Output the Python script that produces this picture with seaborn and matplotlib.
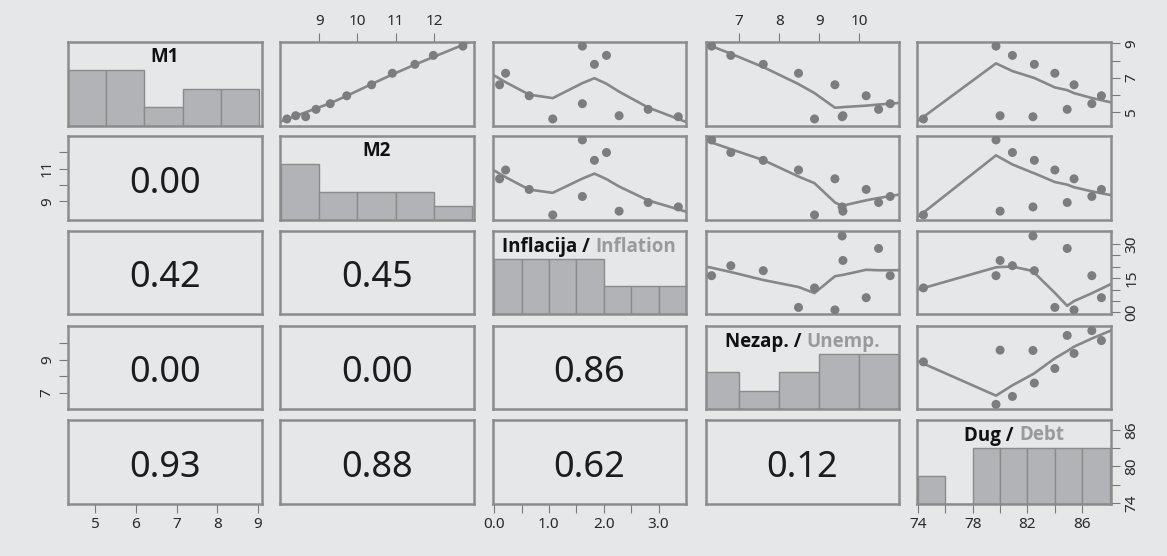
import numpy as np
import pandas as pd
import matplotlib
matplotlib.use("Agg")
import matplotlib.pyplot as plt
import seaborn as sns
from matplotlib import font_manager
from matplotlib.offsetbox import TextArea, HPacker, AnnotationBbox

# ---------------------------------------------------------------- data
m1 = [4.60, 4.79, 4.73, 5.16, 5.49, 5.95, 6.59, 7.26, 7.78, 8.30, 8.84]
m2 = [8.16, 8.39, 8.65, 8.92, 9.29, 9.72, 10.37, 10.91, 11.50, 11.98, 12.75]
inflation = [1.07, 2.28, 3.36, 2.81, 1.61, 0.64, 0.10, 0.21, 1.83, 2.05, 1.61]
unemployment = [8.88, 9.59, 9.57, 10.48, 10.77, 10.17, 9.39, 8.48, 7.60, 6.79, 6.31]
debt = [74.4, 80.0, 82.4, 84.9, 86.7, 87.4, 85.4, 84.0, 82.5, 80.9, 79.7]

var_keys = ["m1", "m2", "infl", "unemp", "debt"]
title_local = ["M1", "M2", "Inflacija", "Nezap.", "Dug"]
title_english = [None, None, "Inflation", "Unemp.", "Debt"]

# histogram bins and counts on the diagonal
m1_breaks = [4, 5, 6, 7, 8, 9]
m1_counts = [3, 3, 1, 2, 2]
m2_breaks = [8, 9, 10, 11, 12, 13]
m2_counts = [4, 2, 2, 2, 1]
infl_breaks = [0.0, 0.5, 1.0, 1.5, 2.0, 2.5, 3.0, 3.5]
infl_counts = [2, 2, 2, 2, 1, 1, 1]
unemp_breaks = [6, 7, 8, 9, 10, 11]
unemp_counts = [2, 1, 2, 3, 3]
debt_breaks = [74, 76, 78, 80, 82, 84, 86, 88]
debt_counts = [1, 0, 2, 2, 2, 2, 2]

# p-values shown in the lower triangle
p_rows = [1, 2, 2, 3, 3, 3, 4, 4, 4, 4]
p_cols = [0, 0, 1, 0, 1, 2, 0, 1, 2, 3]
p_vals = [0.00, 0.42, 0.45, 0.00, 0.00, 0.86, 0.93, 0.88, 0.62, 0.12]

# axis ticks and labels
m1_ticks = [5, 6, 7, 8, 9]
m1_xlabels = ["5", "6", "7", "8", "9"]
m1_ylabels = ["5", "", "7", "", "9"]
m2_ticks = [9, 10, 11, 12]
m2_xlabels = ["9", "10", "11", "12"]
m2_ylabels = ["9", "", "11", ""]
infl_ticks = [0.0, 0.5, 1.0, 1.5, 2.0, 2.5, 3.0]
infl_xlabels = ["0.0", "", "1.0", "", "2.0", "", "3.0"]
infl_ylabels = ["00", "", "", "15", "", "", "30"]
unemp_ticks = [7, 8, 9, 10]
unemp_xlabels = ["7", "8", "9", "10"]
unemp_ylabels = ["7", "", "9", ""]
debt_xticks = [74, 76, 78, 80, 82, 84, 86]
debt_xlabels = ["74", "", "78", "", "82", "", "86"]
debt_yticks = [74, 77, 80, 83, 86]
debt_ylabels = ["74", "", "80", "", "86"]

df = pd.DataFrame({"m1": m1, "m2": m2, "infl": inflation,
                   "unemp": unemployment, "debt": debt})

hist = {
    "m1": (m1_breaks, m1_counts),
    "m2": (m2_breaks, m2_counts),
    "infl": (infl_breaks, infl_counts),
    "unemp": (unemp_breaks, unemp_counts),
    "debt": (debt_breaks, debt_counts),
}
xticks = {"m1": (m1_ticks, m1_xlabels), "m2": (m2_ticks, m2_xlabels),
          "infl": (infl_ticks, infl_xlabels), "unemp": (unemp_ticks, unemp_xlabels),
          "debt": (debt_xticks, debt_xlabels)}
yticks = {"m1": (m1_ticks, m1_ylabels), "m2": (m2_ticks, m2_ylabels),
          "infl": (infl_ticks, infl_ylabels), "unemp": (unemp_ticks, unemp_ylabels),
          "debt": (debt_yticks, debt_ylabels)}

# scale ranges of each variable as column (x) and as row (y)
xlims = {"m1": (4.335, 9.1), "m2": (7.98, 13.04), "infl": (-0.02, 3.5),
         "unemp": (6.17, 10.99), "debt": (73.93, 88.1)}
ylims = {"m1": (4.19, 9.08), "m2": (7.85, 12.99), "infl": (-0.08, 3.58),
         "unemp": (6.03, 11.05), "debt": (73.85, 87.6)}
hist_span = {"m1": (4.0, 9.08)}

# ---------------------------------------------------------------- style
BG = "#e6e7e9"
FRAME = "#8c8c8c"
DOT = "#7d7d7d"
LINE = "#878787"
BAR = "#b2b3b7"
BAR_EDGE = "#8b8b8b"
TICK = "#7a7a7a"
TXT = "#2a2a2a"
GREY_TXT = "#9a9a9a"

sns.set_theme(style="white")


def pick_font(names, weight="normal"):
    for nm in names:
        try:
            path = font_manager.findfont(
                font_manager.FontProperties(family=nm, weight=weight),
                fallback_to_default=False)
        except Exception:
            continue
        if weight == "bold" and "bold" not in path.lower():
            continue
        return nm
    return "DejaVu Sans"


BASE_FONT = pick_font(["Noto Sans", "Open Sans", "DejaVu Sans"])
BOLD_FONT = pick_font(["Noto Sans", "Open Sans", "Lato", "Roboto",
                       "Liberation Sans", "DejaVu Sans"], weight="bold")
plt.rcParams["font.family"] = [BASE_FONT, "DejaVu Sans"]
plt.rcParams["axes.facecolor"] = BG
plt.rcParams["figure.facecolor"] = BG


def lowess(x, y, f=2 / 3, iters=3):
    """Port of the classic clowess smoother."""
    x = np.asarray(x, float)
    y = np.asarray(y, float)
    order = np.argsort(x, kind="mergesort")
    xs, yy = x[order], y[order]
    n = len(xs)
    ns = max(min(int(f * n + 1e-7), n), 2)
    rng = xs[-1] - xs[0]
    delta = 0.01 * rng
    rw = np.ones(n)
    fit = np.zeros(n)

    def lowest(xv, nleft, nright, userw):
        h = max(xv - xs[nleft], xs[nright] - xv)
        h9, h1 = 0.999 * h, 0.001 * h
        w = np.zeros(n)
        a = 0.0
        j = nleft
        while j < n:
            r = abs(xs[j] - xv)
            if r <= h9:
                w[j] = 1.0 if r <= h1 else (1 - (r / h) ** 3) ** 3
                if userw:
                    w[j] *= rw[j]
                a += w[j]
            elif xs[j] > xv:
                break
            j += 1
        nrt = j - 1
        if a <= 0:
            return 0.0, False
        idx = slice(nleft, nrt + 1)
        w[idx] /= a
        if h > 0:
            a = np.sum(w[idx] * xs[idx])
            b = xv - a
            c = np.sum(w[idx] * (xs[idx] - a) ** 2)
            if np.sqrt(c) > 0.001 * rng:
                b /= c
                w[idx] = w[idx] * (b * (xs[idx] - a) + 1)
        return float(np.sum(w[idx] * yy[idx])), True

    for it in range(iters + 1):
        nleft, nright = 0, ns - 1
        last, i = -1, 0
        while True:
            if nright < n - 1:
                if xs[i] - xs[nleft] > xs[nright + 1] - xs[i]:
                    nleft += 1
                    nright += 1
                    continue
            val, ok = lowest(xs[i], nleft, nright, it > 0)
            fit[i] = val if ok else yy[i]
            if last < i - 1:
                den = xs[i] - xs[last]
                for j in range(last + 1, i):
                    al = (xs[j] - xs[last]) / den
                    fit[j] = al * fit[i] + (1 - al) * fit[last]
            last = i
            cut = xs[last] + delta
            i = last + 1
            while i < n:
                if xs[i] > cut:
                    break
                if xs[i] == xs[last]:
                    fit[i] = fit[last]
                    last = i
                i += 1
            i = max(last + 1, i - 1)
            if last >= n - 1:
                break
        if it == iters:
            break
        res = yy - fit
        cmad = 6 * np.median(np.abs(res))
        if cmad < 1e-7 * np.mean(np.abs(yy)):
            break
        r = np.abs(res) / cmad
        rw = np.where(r <= 0.001, 1.0, np.where(r <= 0.999, (1 - r ** 2) ** 2, 0.0))
    return xs, fit


def extend_to(xs, ys, lo, hi):
    """Carry the smooth on to the panel edges along its end segments."""
    ux, idx = np.unique(xs, return_index=True)
    uy = ys[idx]
    s0 = (uy[1] - uy[0]) / (ux[1] - ux[0])
    s1 = (uy[-1] - uy[-2]) / (ux[-1] - ux[-2])
    xo = np.concatenate([[lo], ux, [hi]])
    yo = np.concatenate([[uy[0] + s0 * (lo - ux[0])], uy, [uy[-1] + s1 * (hi - ux[-1])]])
    return xo, yo


# ---------------------------------------------------------------- layout
W, H = 1167, 556
col_px = [(68, 262), (280, 474), (493, 686), (706, 899), (917, 1111)]
row_px = [(42, 126), (136, 220), (231, 314), (326, 409), (420, 504)]

fig = plt.figure(figsize=(W / 100, H / 100), dpi=100)
fig.patch.set_facecolor(BG)

title_props = dict(fontweight="bold", fontsize=13.5, family=[BOLD_FONT, "DejaVu Sans"])

nv = len(var_keys)
for r in range(nv):
    for c in range(nv):
        x0, x1 = col_px[c]
        y0, y1 = row_px[r]
        ax = fig.add_axes([x0 / W, 1 - y1 / H, (x1 - x0) / W, (y1 - y0) / H])
        ax.set_facecolor(BG)
        vx, vy = var_keys[c], var_keys[r]
        ax.set_xlim(*xlims[vx])
        ax.set_ylim(*ylims[vy])
        for sp in ax.spines.values():
            sp.set_visible(True)
            sp.set_color(FRAME)
            sp.set_linewidth(1.8)

        if r == c:
            hax = ax.inset_axes([0, 0, 1, 1])
            hax.set_zorder(1)
            hax.patch.set_visible(False)
            breaks, counts = hist[vx]
            counts = np.asarray(counts, float)
            edges = np.asarray(breaks, float)
            hdf = pd.DataFrame({"mid": (edges[:-1] + edges[1:]) / 2,
                                "height": counts / counts.max()})
            sns.histplot(data=hdf, x="mid", weights="height", bins=list(breaks),
                         ax=hax, color=BAR, edgecolor=BAR_EDGE, linewidth=1.0,
                         alpha=1.0, legend=False)
            hax.set_xlim(*hist_span.get(vx, xlims[vx]))
            hax.set_ylim(0, 1.5)
            hax.set_xticks([])
            hax.set_yticks([])
            hax.set_xlabel("")
            hax.set_ylabel("")
            hax.axis("off")
            parts = [TextArea(title_local[r] + (" /" if title_english[r] else ""),
                              textprops=dict(color="#111111", **title_props))]
            if title_english[r]:
                parts.append(TextArea(title_english[r],
                                      textprops=dict(color=GREY_TXT, **title_props)))
            box = HPacker(children=parts, align="baseline", pad=0, sep=4)
            ab = AnnotationBbox(box, (0.5, 1 - 15.5 / (y1 - y0)),
                                xycoords="axes fraction", frameon=False,
                                box_alignment=(0.5, 0.5), pad=0)
            ab.set_zorder(4)
            ax.add_artist(ab)
        elif c > r:
            sns.scatterplot(data=df, x=vx, y=vy, ax=ax, color=DOT, s=42,
                            edgecolor="none", legend=False, zorder=3)
            lx, ly = lowess(df[vx].values, df[vy].values)
            ex, ey = extend_to(lx, ly, *xlims[vx])
            sns.lineplot(x=ex, y=ey, ax=ax, color=LINE, linewidth=1.9,
                         sort=False, estimator=None, zorder=2)
        else:
            k = [i for i in range(len(p_vals)) if p_rows[i] == r and p_cols[i] == c][0]
            ax.text(0.5, 0.43, f"{p_vals[k]:.2f}", transform=ax.transAxes,
                    ha="center", va="center", fontsize=26, color="#1c1c1c")

        ax.set_xlabel("")
        ax.set_ylabel("")
        # axes around the outside of the matrix, alternating sides
        ax.set_xticks([])
        ax.set_yticks([])
        show_bottom = (r == nv - 1 and c % 2 == 0)
        show_top = (r == 0 and c % 2 == 1)
        show_right = (c == nv - 1 and r % 2 == 0)
        show_left = (c == 0 and r % 2 == 1)
        if show_bottom or show_top:
            t, lab = xticks[vx]
            ax.set_xticks(t)
            ax.set_xticklabels(lab)
            ax.tick_params(axis="x", bottom=show_bottom, labelbottom=show_bottom,
                           top=show_top, labeltop=show_top)
        if show_right or show_left:
            t, lab = yticks[vy]
            ax.set_yticks(t)
            ax.set_yticklabels(lab, rotation=90, va="center")
            ax.tick_params(axis="y", left=show_left, labelleft=show_left,
                           right=show_right, labelright=show_right)
        ax.tick_params(which="both", direction="out", length=6.5, width=0.8,
                       color=TICK, labelsize=11, labelcolor=TXT, pad=3)

fig.savefig("out.png", dpi=100, facecolor=BG)
